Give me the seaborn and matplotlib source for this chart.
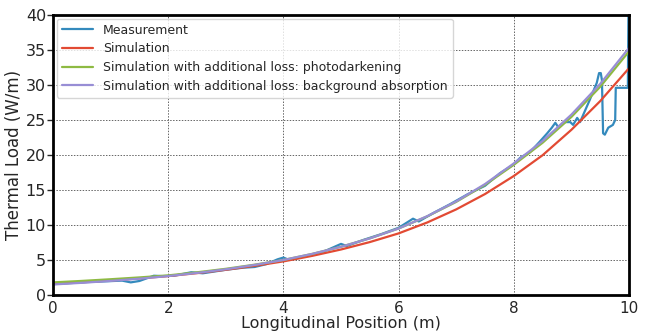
import numpy as np
import pandas as pd
import matplotlib
matplotlib.use("Agg")
import matplotlib.pyplot as plt
import seaborn as sns

# Simulation curves (x grid 0..10 step 0.5)
sim_x = [0.0, 0.5, 1.0, 1.5, 2.0, 2.5, 3.0, 3.5, 4.0, 4.5, 5.0, 5.5, 6.0, 6.5, 7.0,
         7.5, 8.0, 8.5, 9.0, 9.5, 10.0]
sim_red = [1.60, 1.82, 2.08, 2.37, 2.70, 3.12, 3.60, 4.16, 4.80, 5.59, 6.50, 7.56,
           8.80, 10.37, 12.23, 14.42, 17.0, 19.97, 23.6, 27.7, 32.4]
sim_photo = [1.80, 2.01, 2.25, 2.51, 2.80, 3.24, 3.74, 4.33, 5.00, 5.87, 6.89, 8.09,
             9.50, 11.24, 13.30, 15.73, 18.6, 21.75, 25.44, 29.75, 34.8]
sim_bg = [1.50, 1.74, 2.01, 2.33, 2.70, 3.15, 3.67, 4.29, 5.00, 5.87, 6.89, 8.09,
          9.50, 11.27, 13.37, 15.85, 18.8, 22.0, 25.77, 30.16, 35.3]

# Measurement
meas_x = [0.0, 0.3, 0.6, 0.9, 1.2, 1.35, 1.5, 1.75, 1.9, 2.1, 2.4, 2.6, 2.8, 3.0, 3.3,
          3.5, 3.7, 3.9, 4.0, 4.1, 4.4, 4.7, 5.0, 5.1, 5.4, 5.7, 5.8, 6.0, 6.25, 6.35,
          6.6, 6.9, 7.2, 7.5, 7.76, 7.99, 8.11, 8.28, 8.45, 8.58, 8.66, 8.72, 8.77,
          8.89, 8.98, 9.03, 9.10, 9.15, 9.24, 9.32, 9.44, 9.48, 9.51, 9.53, 9.55, 9.58,
          9.64, 9.72, 9.76, 9.77, 9.98, 9.99]
meas_y = [1.55, 1.7, 1.85, 1.95, 2.05, 1.8, 2.0, 2.75, 2.7, 2.75, 3.25, 3.1, 3.35, 3.6, 3.9,
          4.0, 4.4, 5.1, 5.35, 5.0, 5.6, 6.2, 7.3, 7.0, 7.9, 8.7, 9.0, 9.6, 10.9, 10.5,
          11.7, 13.0, 14.4, 15.6, 17.4, 18.6, 19.6, 20.4, 21.9, 23.1, 23.9, 24.6, 24.0,
          24.7, 24.7, 24.3, 25.3, 24.7, 26.4, 27.9, 30.3, 31.7, 31.7, 30.7, 23.1, 22.9,
          23.9, 24.3, 25.0, 29.6, 29.6, 40.5]

labels = ["Measurement", "Simulation",
          "Simulation with additional loss: photodarkening",
          "Simulation with additional loss: background absorption"]
colors = ["#348ABD", "#E24A33", "#8EBA42", "#988ED5"]

sns.set_style("white")
plt.rcParams['font.family'] = ['DejaVu Sans']

fig = plt.figure(figsize=(6.49, 3.31), dpi=100)
ax = fig.add_axes([0.0817, 0.1088, 0.8875, 0.8459])

dm = pd.DataFrame({"x": meas_x, "y": meas_y})
sns.lineplot(data=dm, x="x", y="y", ax=ax, color=colors[0], lw=1.6, label=labels[0],
             sort=False, estimator=None)
for ys, c, lab in [(sim_red, colors[1], labels[1]), (sim_photo, colors[2], labels[2]),
                   (sim_bg, colors[3], labels[3])]:
    d = pd.DataFrame({"x": sim_x, "y": ys})
    sns.lineplot(data=d, x="x", y="y", ax=ax, color=c, lw=1.6, label=lab,
                 sort=False, estimator=None)

ax.set_xlim(0, 10)
ax.set_ylim(0, 40)
ax.set_xticks([0, 2, 4, 6, 8, 10])
ax.set_yticks([0, 5, 10, 15, 20, 25, 30, 35, 40])
ax.grid(True, color="0.4", linestyle=(0, (1.5, 1.5)), lw=0.7)
for s in ax.spines.values():
    s.set_color("black")
    s.set_linewidth(2)
ax.tick_params(axis="both", labelsize=11.5, length=4, width=1, direction="out",
               left=True, bottom=False, pad=1)
ax.tick_params(axis="x", pad=0, labelsize=11)
ax.set_xlabel("Longitudinal Position (m)", fontsize=11.5, labelpad=0)
ax.set_ylabel("Thermal Load (W/m)", fontsize=12, labelpad=2)
leg = ax.legend(loc="upper left", fontsize=9.0, frameon=True, borderpad=0.4,
                labelspacing=0.45, handlelength=2.5, borderaxespad=0.3)
leg.get_frame().set_edgecolor("0.8")

fig.savefig("out.png", dpi=100)
